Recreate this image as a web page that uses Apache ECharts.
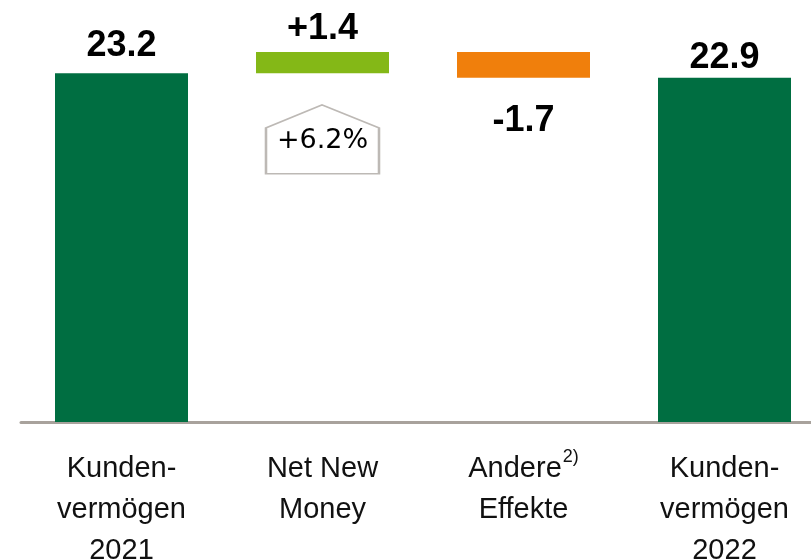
<!DOCTYPE html>
<html>
<head>
<meta charset="utf-8">
<script src="https://cdn.jsdelivr.net/npm/echarts@6/dist/echarts.min.js"></script>
<style>
  html, body { margin: 0; padding: 0; background: #fff; }
  #chart { width: 811px; height: 560px; }
</style>
</head>
<body>
<div id="chart"></div>
<script>
// Kundenvermögen Brücke 2021 -> 2022
const categories = ['Kunden-\nvermögen\n2021', 'Net New\nMoney', 'Andere', 'Kunden-\nvermögen\n2022']
const kinds = ['total', 'delta', 'delta', 'total']
const values = [23.2, 1.4, -1.7, 22.9]
const valueLabels = ['23.2', '+1.4', '-1.7', '22.9']
const growthLabel = '+6.2%'
const growthLevel = 18.8 // Höhe der Box auf der Werteachse

const colors = { total: '#006e41', up: '#84b817', down: '#f07f0c' }

// Sockel + sichtbare Balken aus den Werten berechnen
let running = 0
const base = []
const visible = []
values.forEach((v, i) => {
  if (kinds[i] === 'total') {
    base.push(0)
    visible.push(v)
    running = v
  } else {
    base.push(v >= 0 ? running : running + v)
    visible.push(Math.abs(v))
    running += v
  }
})

const labelDist = [9, 5, 25, 2]

const chart = echarts.init(document.getElementById('chart'))
chart.setOption({
  animation: false,
  grid: { left: 21, width: 804, top: 1, height: 421, outerBoundsMode: 'none', containLabel: false },
  xAxis: {
    type: 'category',
    data: categories,
    axisLine: { lineStyle: { color: '#a8a29c', width: 3 } },
    axisTick: { show: false },
    axisLabel: {
      interval: 0,
      margin: 26,
      color: '#111',
      fontFamily: 'Liberation Sans',
      fontSize: 29,
      lineHeight: 41,
      formatter: (val) => {
        if (val === 'Andere') return '{a|Andere}{sup|2)}\n{a|Effekte}'
        return val
      },
      rich: {
        a: { fontFamily: 'Liberation Sans', fontSize: 29, lineHeight: 41, color: '#111' },
        sup: { fontFamily: 'Liberation Sans', fontSize: 18, lineHeight: 41, color: '#111', verticalAlign: 'top', padding: [0, 0, 3, 1] }
      }
    }
  },
  yAxis: {
    type: 'value',
    min: 0,
    max: 28,
    show: false,
    splitLine: { show: false }
  },
  series: [
    {
      type: 'bar',
      stack: 'wf',
      data: base,
      itemStyle: { color: 'transparent' },
      barWidth: 133,
      silent: true
    },
    {
      type: 'bar',
      stack: 'wf',
      barWidth: 133,
      data: visible.map((v, i) => ({
        value: v,
        itemStyle: {
          color: kinds[i] === 'total' ? colors.total : (values[i] >= 0 ? colors.up : colors.down)
        },
        label: {
          show: true,
          position: values[i] < 0 ? 'bottom' : 'top',
          distance: labelDist[i],
          formatter: valueLabels[i],
          fontFamily: 'Liberation Sans',
          fontWeight: 'bold',
          fontSize: 36,
          color: '#000'
        }
      })),
      markPoint: {
        silent: true,
        symbol: 'path://M0,23 L56,0 L113,23 L113,69 L0,69 Z',
        symbolSize: [113, 69],
        itemStyle: { color: 'rgba(255,255,255,0)', borderColor: '#bdb9b5', borderWidth: 2 },
        label: {
          show: true,
          formatter: growthLabel,
          fontFamily: 'DejaVu Sans',
          fontSize: 27,
          color: '#000',
          offset: [0, 2]
        },
        data: [{ coord: [categories[1], growthLevel], value: growthLabel }]
      }
    }
  ]
})
</script>
</body>
</html>
